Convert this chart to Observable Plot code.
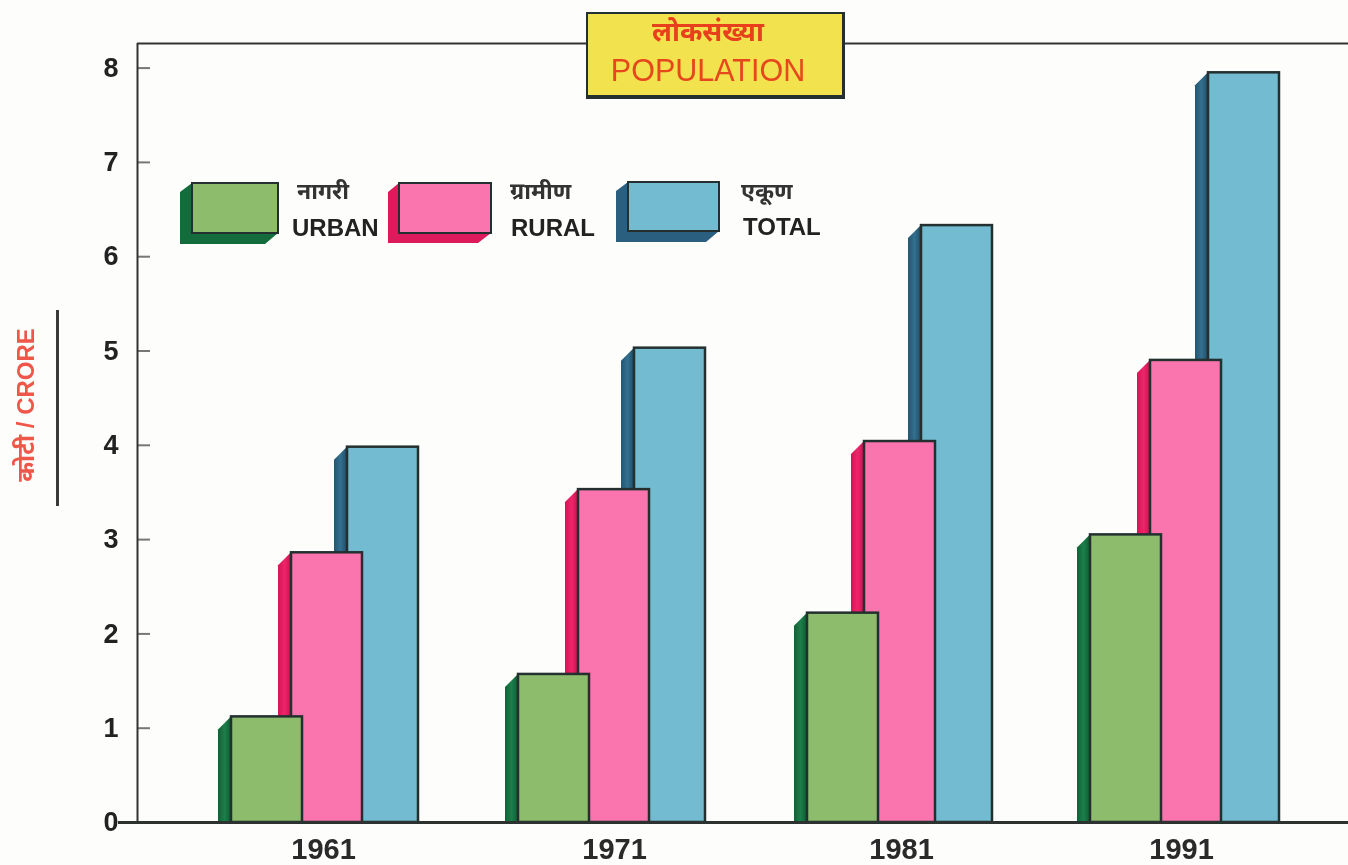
<!DOCTYPE html>
<html><head><meta charset="utf-8">
<script src="https://cdn.jsdelivr.net/npm/d3@7"></script>
<script src="https://cdn.jsdelivr.net/npm/@observablehq/plot@0.6"></script>
<style>
html,body{margin:0;padding:0;background:#fdfdfb;overflow:hidden}
#wrap{position:relative;width:1348px;height:865px;font-family:"Liberation Sans",Arial,sans-serif;filter:blur(0.5px)}
#wrap svg{display:block}
.abs{position:absolute;white-space:nowrap}
.legend-en{font-weight:700;font-size:24px;color:#222;line-height:1}
.legend-hi{font-weight:700;font-size:23px;color:#333;line-height:1;font-family:"Noto Sans","Liberation Sans",sans-serif}
</style></head><body><div id="wrap"></div>
<svg width="0" height="0" style="position:absolute"><defs>
<linearGradient id="sideGreen"><stop offset="0" stop-color="#0f6236"/><stop offset="0.5" stop-color="#1c7f4a"/><stop offset="1" stop-color="#0e5c33"/></linearGradient>
<linearGradient id="sidePink"><stop offset="0" stop-color="#d31556"/><stop offset="0.5" stop-color="#f0246a"/><stop offset="1" stop-color="#c8124f"/></linearGradient>
<linearGradient id="sideBlue"><stop offset="0" stop-color="#24566f"/><stop offset="0.5" stop-color="#33708f"/><stop offset="1" stop-color="#1f4d66"/></linearGradient>
</defs></svg>
<script>
const years = [1961, 1971, 1981, 1991];
const urban = [1.12, 1.57, 2.22, 3.05];
const rural = [2.86, 3.53, 4.04, 4.90];
const total = [3.98, 5.03, 6.33, 7.95];
const yTicks = [0, 1, 2, 3, 4, 5, 6, 7, 8];

const W = 1348, H = 865, mL = 137, mT = 43, mB = 43;
const pxPerYear = 28.7, pxPerUnit = 94.3;
const yr = px => px / pxPerYear;               // pixels to year units
const un = px => px / pxPerUnit;               // pixels to value units
const x0 = 325;                                 // where 1961 falls

// back to front, each bar placed relative to its year
const styles = [
  {name: "TOTAL", values: total, off: 22,  face: "#72bbd0", side: "url(#sideBlue)", nudge: [0, 0, 0, 0]},
  {name: "RURAL", values: rural, off: -34, face: "#fa74ae", side: "url(#sidePink)", nudge: [0, 0, -1, -2]},
  {name: "URBAN", values: urban, off: -94, face: "#8dbc6d", side: "url(#sideGreen)", nudge: [0, 0, 2, -2]}
];
const faceW = 71, depth = 13, ink = "#23302f";

const marks = [];
for (const s of styles) {
  years.forEach((year, i) => {
    const v = s.values[i];
    const left = year + yr(s.off + s.nudge[i]);
    marks.push(Plot.areaY([{x: left - yr(depth), y: v - un(depth)}, {x: left, y: v}], {
      x: "x", y1: 0, y2: "y", fill: s.side
    }));
    marks.push(Plot.rect([{x1: left, x2: left + yr(faceW), y1: 0, y2: v}], {
      x1: "x1", x2: "x2", y1: "y1", y2: "y2", fill: s.face, stroke: ink, strokeWidth: 2.5
    }));
  });
}

const labelNudge = [-2, 2, 2, -5];
const xLeft = 1961 - yr(x0 - mL), xRight = 1961 + yr(W - x0);

const chart = Plot.plot({
  width: W, height: H,
  marginLeft: mL, marginRight: 0, marginTop: mT, marginBottom: mB,
  style: {background: "transparent", fontFamily: '"Liberation Sans",Arial,sans-serif'},
  x: {type: "linear", domain: [xLeft, xRight], axis: null},
  y: {domain: [0, (H - mB - mT) / pxPerUnit], axis: null},
  marks: [
    ...marks,
    Plot.axisY({ticks: yTicks, tickSize: -13, tickPadding: 32, tickFormat: "d", label: null,
      fontSize: 27, fontWeight: 700, fill: "#222", stroke: "#777", strokeWidth: 2}),
    ...years.map((y, i) => Plot.axisX({ticks: [y], tickSize: 0, tickPadding: 16, tickFormat: "d", label: null,
      fontSize: 29, fontWeight: 700, fill: "#2a2a2a", dx: labelNudge[i]})),
    Plot.ruleX([xLeft], {stroke: "#333", strokeWidth: 2}),
    Plot.ruleY([(H - mB - mT) / pxPerUnit], {stroke: "#333", strokeWidth: 2}),
    Plot.ruleY([0], {x1: 1961 - yr(x0 - 118), x2: xRight, stroke: "#2c3230", strokeWidth: 3, clip: false})
  ]
});
const wrap = document.getElementById("wrap");
wrap.appendChild(chart);

function el(html, css, cls) {
  const d = document.createElement("div");
  d.className = "abs " + (cls || "");
  d.style.cssText = css;
  d.innerHTML = html;
  wrap.appendChild(d);
  return d;
}
// title box
el("", "left:586px;top:12px;width:259px;height:87px;background:#f1e24e;border:2px solid #23302f;border-right-width:3px;border-bottom-width:4px;box-sizing:border-box");
el("लोकसंख्या", 'left:586px;width:244px;top:12px;text-align:center;color:#e8401c;font:700 27px "Noto Sans","Liberation Sans",sans-serif');
el("POPULATION", 'left:586px;width:244px;top:53px;text-align:center;color:#e6471d;font:400 30.5px "Liberation Sans",Arial,sans-serif');
// legend
const sw = [
 {x:180,y:183,fx:192,fr:278,fb:233,b:244,face:"#8dbc6d",side:"#146c3c"},
 {x:388,y:183,fx:399,fr:491,fb:233,b:243,face:"#fa74ae",side:"#dc1a5c"},
 {x:616,y:182,fx:628,fr:719,fb:231,b:242,face:"#72bbd0",side:"#2b5f80"}
];
let svgs = '<svg class="abs" style="left:0;top:0" width="1348" height="865">';
for (const s of sw) {
  svgs += `<polygon points="${s.x},${s.y+9} ${s.fx},${s.y} ${s.fx},${s.fb} ${s.fr},${s.fb} ${s.fr-13},${s.b} ${s.x},${s.b}" fill="${s.side}"/>`;
  svgs += `<rect x="${s.fx}" y="${s.y}" width="${s.fr-s.fx}" height="${s.fb-s.y}" fill="${s.face}" stroke="${ink}" stroke-width="2"/>`;
}
svgs += '<rect x="56" y="310" width="3" height="196" fill="#3a3a3a"/></svg>';
wrap.insertAdjacentHTML("beforeend", svgs);
el("नागरी", "left:297px;top:179px", "legend-hi");
el("URBAN", "left:292px;top:216px", "legend-en");
el("ग्रामीण", "left:510px;top:179px", "legend-hi");
el("RURAL", "left:511px;top:216px", "legend-en");
el("एकूण", "left:741px;top:179px", "legend-hi");
el("TOTAL", "left:743px;top:215px", "legend-en");
el("कोटी / CRORE", 'left:24px;top:405px;transform:translate(-50%,-50%) rotate(-90deg);color:#f0574a;font:700 24px "Liberation Sans","Noto Sans",sans-serif');
</script></body></html>
